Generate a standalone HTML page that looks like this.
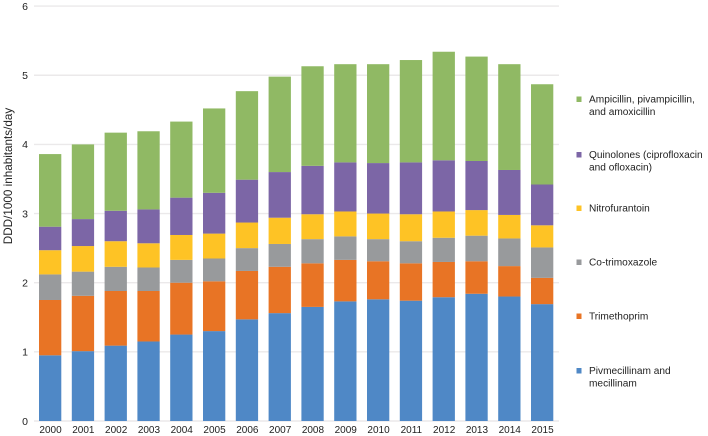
<!DOCTYPE html>
<html>
<head>
<meta charset="utf-8">
<style>
html,body{margin:0;padding:0;background:#fff;width:708px;height:436px;overflow:hidden}
svg{display:block;font-family:"Liberation Sans",sans-serif;fill:#222}
text{filter:blur(0.3px)}
</style>
</head>
<body>
<svg id="chart" width="708" height="436" viewBox="0 0 708 436" xmlns="http://www.w3.org/2000/svg">
<g id="grid"></g>
<g id="bars" style="filter:blur(0.35px)"></g>
<g id="yticks"></g>
<g id="xticks"></g>
<text transform="translate(12,176) rotate(-90)" text-anchor="middle" font-size="11.7">DDD/1000 inhabitants/day</text>
<g id="legend" font-size="10.15"></g>
</svg>
<script>
const years = ["2000","2001","2002","2003","2004","2005","2006","2007","2008","2009","2010","2011","2012","2013","2014","2015"];
const yTickLabels = [0,1,2,3,4,5,6];
const pivmecillinam = [0.95,1.01,1.09,1.15,1.25,1.30,1.47,1.56,1.65,1.73,1.76,1.74,1.79,1.84,1.80,1.69];
const trimethoprim = [0.80,0.80,0.79,0.73,0.75,0.72,0.70,0.67,0.63,0.60,0.55,0.54,0.51,0.47,0.44,0.38];
const cotrimoxazole = [0.37,0.35,0.35,0.34,0.33,0.33,0.33,0.33,0.35,0.34,0.32,0.32,0.35,0.37,0.40,0.44];
const nitrofurantoin = [0.35,0.37,0.37,0.35,0.36,0.36,0.37,0.38,0.36,0.36,0.37,0.39,0.38,0.37,0.34,0.32];
const quinolones = [0.34,0.39,0.44,0.49,0.54,0.59,0.62,0.66,0.70,0.71,0.73,0.75,0.74,0.71,0.65,0.59];
const ampicillin = [1.05,1.08,1.13,1.13,1.10,1.22,1.28,1.38,1.44,1.42,1.43,1.48,1.57,1.51,1.53,1.45];

const NS = "http://www.w3.org/2000/svg";
const seriesList = [
  {key:"pivmecillinam", values:pivmecillinam, color:"#4f88c6"},
  {key:"trimethoprim", values:trimethoprim, color:"#e87425"},
  {key:"co-trimoxazole", values:cotrimoxazole, color:"#989a9c"},
  {key:"nitrofurantoin", values:nitrofurantoin, color:"#fec325"},
  {key:"quinolones", values:quinolones, color:"#7c66a6"},
  {key:"ampicillin", values:ampicillin, color:"#90b964"}
];
const legendItems = [
  {key:"ampicillin", color:"#90b964", lines:["Ampicillin, pivampicillin,","and amoxicillin"], y:99},
  {key:"quinolones", color:"#7c66a6", lines:["Quinolones (ciprofloxacin","and ofloxacin)"], y:154.5},
  {key:"nitrofurantoin", color:"#fec325", lines:["Nitrofurantoin"], y:208},
  {key:"co-trimoxazole", color:"#989a9c", lines:["Co-trimoxazole"], y:262},
  {key:"trimethoprim", color:"#e87425", lines:["Trimethoprim"], y:316},
  {key:"pivmecillinam", color:"#4f88c6", lines:["Pivmecillinam and","mecillinam"], y:370.5}
];
const yScale = v => 421 - v * 69.15;
const xScale = i => 39 + i * 32.8;
const barWidth = 22.3;

function make(tag, attrs, parent){
  const el = document.createElementNS(NS, tag);
  for (const k in attrs) el.setAttribute(k, attrs[k]);
  parent.appendChild(el);
  return el;
}

const gridG = document.getElementById("grid");
const yG = document.getElementById("yticks");
yTickLabels.forEach(t => {
  const line = make("line", {x1:34, x2:559, y1:yScale(t), y2:yScale(t), stroke:"#ebe9ea", "stroke-width":1.4}, gridG);
  
  
  const label = make("text", {x:28, y:yScale(t)+3.8, "text-anchor":"end", "font-size":10.5}, yG);
  
  
  label.textContent = t;
});

const barsG = document.getElementById("bars");
const xG = document.getElementById("xticks");
years.forEach((yr, i) => {
  let base = 0;
  seriesList.forEach(s => {
    const top = base + s.values[i];
    const r = make("rect", {x:xScale(i), y:yScale(top), width:barWidth, height:yScale(base)-yScale(top), fill:s.color}, barsG);
    
    
    base = top;
  });
  const label = make("text", {x:xScale(i)+barWidth/2+0.4, y:433, "text-anchor":"middle", "font-size":10}, xG);
  
  
  label.textContent = yr;
});

const legendG = document.getElementById("legend");
legendItems.forEach(item => {
  const swatch = make("rect", {x:576.5, y:item.y-2.5, width:5, height:5.5, fill:item.color}, legendG);
  
  
  item.lines.forEach((ln, j) => {
    const t = make("text", {x:589, y:item.y+3.6+j*12.5}, legendG);
    
    
    t.textContent = ln;
  });
});
</script>
</body>
</html>
